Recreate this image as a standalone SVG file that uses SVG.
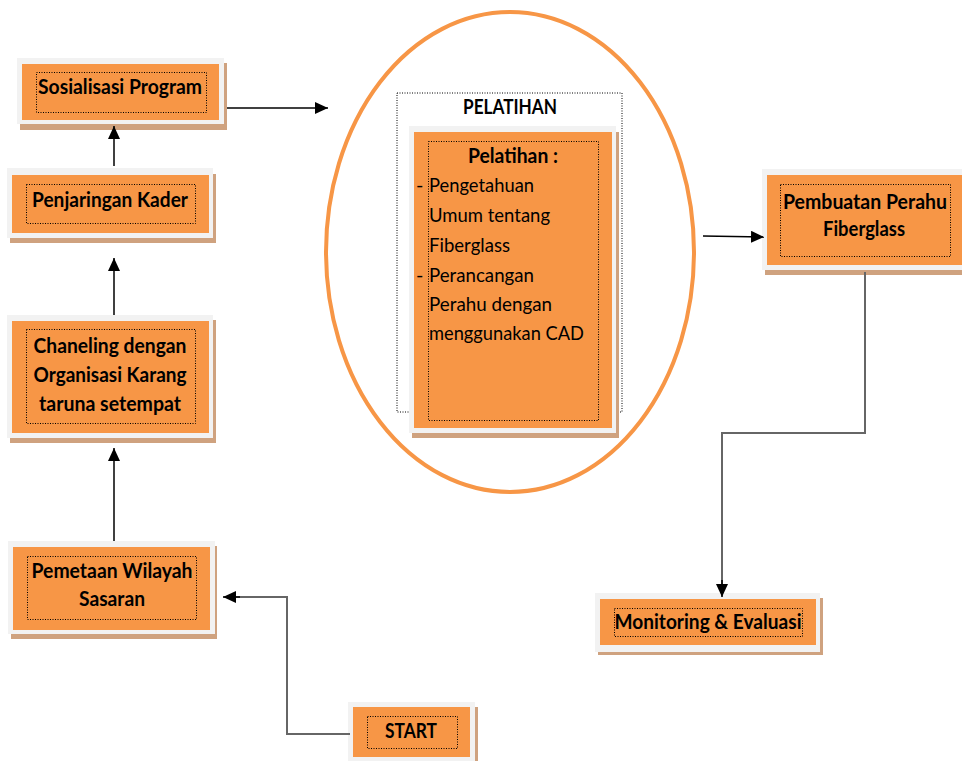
<svg xmlns="http://www.w3.org/2000/svg" width="962" height="761" viewBox="0 0 962 761">
<defs>
<marker id="arr" markerUnits="userSpaceOnUse" markerWidth="14" markerHeight="12" refX="13" refY="6" orient="auto">
<path d="M0,0 L13,6 L0,12 Z" fill="#000"/>
</marker>
<style>
.sh{fill:#cfa27f}
.fr{fill:#f2f2f2}
.or{fill:#f79646}
.dt{fill:none;stroke:#000;stroke-width:1;stroke-dasharray:1 1.5}
.t{font-family:Lato,"Liberation Sans",sans-serif;font-weight:bold;font-size:20px;fill:#000;text-anchor:middle}
.r{font-family:Lato,"Liberation Sans",sans-serif;font-size:20px;fill:#000}
.c{fill:none;stroke:#000;stroke-width:1.5}
.g{fill:none;stroke:#666;stroke-width:2}
</style>
</defs>
<rect width="962" height="761" fill="#fff"/>

<ellipse cx="510" cy="252" rx="184" ry="240" fill="none" stroke="#f79646" stroke-width="4"/>

<g id="pelatihan-group">
<rect x="397" y="93" width="225" height="319" fill="none" stroke="#000" stroke-width="1" stroke-dasharray="1 1.5"/>
<text class="t" x="510" y="114" font-size="18" textLength="94" lengthAdjust="spacingAndGlyphs">PELATIHAN</text>
</g>

<g id="pelatihan">
<rect class="sh" x="412" y="132" width="207" height="306"/>
<rect class="fr" x="409" y="126" width="207" height="307"/>
<rect class="or" x="414" y="132" width="198" height="296"/>
<rect class="dt" x="428.5" y="141.5" width="170" height="279"/>
<text class="t" x="513" y="163" textLength="90" lengthAdjust="spacingAndGlyphs">Pelatihan :</text>
<text class="r" x="416" y="192">-</text>
<text class="r" x="429" y="192" textLength="105" lengthAdjust="spacingAndGlyphs">Pengetahuan</text>
<text class="r" x="429" y="222" textLength="121" lengthAdjust="spacingAndGlyphs">Umum tentang</text>
<text class="r" x="429" y="252" textLength="81" lengthAdjust="spacingAndGlyphs">Fiberglass</text>
<text class="r" x="416" y="282">-</text>
<text class="r" x="429" y="282" textLength="105" lengthAdjust="spacingAndGlyphs">Perancangan</text>
<text class="r" x="429" y="311" textLength="123" lengthAdjust="spacingAndGlyphs">Perahu dengan</text>
<text class="r" x="429" y="340" textLength="155" lengthAdjust="spacingAndGlyphs">menggunakan CAD</text>
</g>

<g id="sosialisasi">
<rect class="sh" x="20" y="63" width="207" height="67"/>
<rect class="fr" x="17" y="58" width="207" height="66"/>
<rect class="or" x="22" y="64" width="197" height="56"/>
<rect class="dt" x="36.5" y="72.5" width="170" height="40"/>
<text class="t" x="120" y="94" textLength="164" lengthAdjust="spacingAndGlyphs">Sosialisasi Program</text>
</g>

<g id="penjaringan">
<rect class="sh" x="10" y="174" width="206" height="69"/>
<rect class="fr" x="7" y="168" width="206" height="70"/>
<rect class="or" x="12" y="175" width="197" height="58"/>
<rect class="dt" x="26.5" y="184.5" width="169" height="39"/>
<text class="t" x="110" y="207" textLength="156" lengthAdjust="spacingAndGlyphs">Penjaringan Kader</text>
</g>

<g id="chaneling">
<rect class="sh" x="10" y="320" width="206" height="123"/>
<rect class="fr" x="7" y="315" width="206" height="123"/>
<rect class="or" x="12" y="321" width="197" height="112"/>
<rect class="dt" x="26.5" y="329.5" width="169" height="94"/>
<text class="t" x="110" y="353" textLength="153" lengthAdjust="spacingAndGlyphs">Chaneling dengan</text>
<text class="t" x="110" y="382" textLength="153" lengthAdjust="spacingAndGlyphs">Organisasi Karang</text>
<text class="t" x="110" y="411" textLength="142" lengthAdjust="spacingAndGlyphs">taruna setempat</text>
</g>

<g id="pemetaan">
<rect class="sh" x="11" y="546" width="206" height="93"/>
<rect class="fr" x="8" y="541" width="207" height="93"/>
<rect class="or" x="13" y="547" width="197" height="83"/>
<rect class="dt" x="27.5" y="556.5" width="169" height="63"/>
<text class="t" x="112" y="578" textLength="161" lengthAdjust="spacingAndGlyphs">Pemetaan Wilayah</text>
<text class="t" x="112" y="606" textLength="66" lengthAdjust="spacingAndGlyphs">Sasaran</text>
</g>

<g id="start">
<rect class="sh" x="351" y="707" width="127" height="60"/>
<rect class="fr" x="348" y="702" width="127" height="65"/>
<rect class="or" x="353" y="707" width="117" height="50"/>
<rect class="dt" x="367.5" y="716.5" width="90" height="32"/>
<text class="t" x="411" y="738" textLength="52" lengthAdjust="spacingAndGlyphs">START</text>
</g>

<g id="pembuatan">
<rect class="sh" x="765" y="174" width="210" height="101"/>
<rect class="fr" x="762" y="169" width="210" height="101"/>
<rect class="or" x="767" y="175" width="200" height="90"/>
<rect class="dt" x="780.5" y="184.5" width="170" height="72"/>
<text class="t" x="865" y="209" textLength="164" lengthAdjust="spacingAndGlyphs">Pembuatan Perahu</text>
<text class="t" x="864" y="236" textLength="82" lengthAdjust="spacingAndGlyphs">Fiberglass</text>
</g>

<g id="monitoring">
<rect class="sh" x="598" y="598" width="225" height="57"/>
<rect class="fr" x="595" y="593" width="225" height="59"/>
<rect class="or" x="600" y="599" width="216" height="46"/>
<rect class="dt" x="614.5" y="608.5" width="188" height="28"/>
<text class="t" x="708" y="629" textLength="187" lengthAdjust="spacingAndGlyphs">Monitoring &amp; Evaluasi</text>
</g>

<g id="connectors">
<path class="c" d="M227,108 H328" marker-end="url(#arr)"/>
<path class="c" d="M703,236 L764,237" marker-end="url(#arr)"/>
<path class="c" d="M114,166 V126" marker-end="url(#arr)"/>
<path class="c" d="M114,315 V258" marker-end="url(#arr)"/>
<path class="c" d="M114,541 V448" marker-end="url(#arr)"/>
<path class="g" d="M350,734 H287 V597 H232"/>
<path class="c" d="M240,597 H223" marker-end="url(#arr)"/>
<path class="g" d="M865,272 V433 H722 V588"/>
<path class="c" d="M722,580 V597" marker-end="url(#arr)"/>
</g>
</svg>
